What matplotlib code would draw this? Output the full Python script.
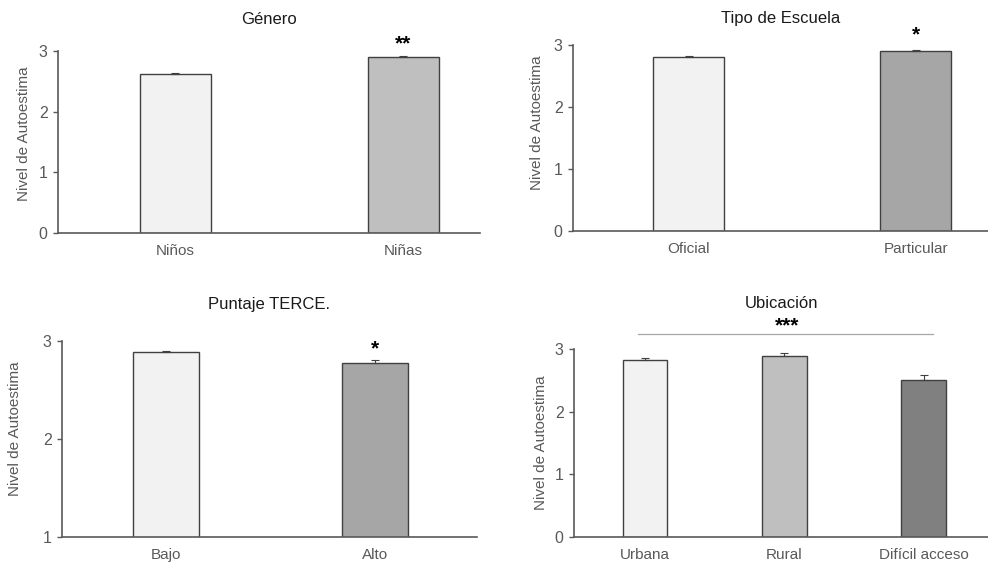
import matplotlib
matplotlib.use("Agg")
import matplotlib.pyplot as plt

plt.rcParams['font.family'] = ['Liberation Sans', 'DejaVu Sans']

W, H = 988, 563

# ---- data ----
gen_cats = ["Niños", "Niñas"]
gen_vals = [2.62, 2.90]
gen_err = [0.02, 0.01]

esc_cats = ["Oficial", "Particular"]
esc_vals = [2.80, 2.90]
esc_err = [0.015, 0.025]

terce_cats = ["Bajo", "Alto"]
terce_vals = [2.89, 2.78]
terce_err = [0.01, 0.03]

ubi_cats = ["Urbana", "Rural", "Difícil acceso"]
ubi_vals = [2.83, 2.90, 2.51]
ubi_err = [0.03, 0.04, 0.08]

fig = plt.figure(figsize=(W / 100, H / 100), dpi=100)

def add_ax(left, right, bottom, top):
    return fig.add_axes([left / W, 1 - bottom / H, (right - left) / W, (bottom - top) / H])

tick_col = '#595959'
edge_col = '#404040'

def style(ax, cats, vals, errs, colors, xlim, ylim, yticks, width):
    x = list(range(len(cats)))
    ax.bar(x, vals, width=width, color=colors, edgecolor=edge_col, linewidth=1.0, zorder=2)
    ax.errorbar(x, vals, yerr=[[0] * len(errs), errs], fmt='none', ecolor=edge_col,
                elinewidth=0.8, capsize=3, capthick=0.8, zorder=3)
    ax.set_xlim(*xlim)
    ax.set_ylim(*ylim)
    ax.set_yticks(yticks)
    ax.set_xticks(x)
    ax.set_xticklabels(cats)
    for s in ['top', 'right']:
        ax.spines[s].set_visible(False)
    for s in ['left', 'bottom']:
        ax.spines[s].set_color('#595959')
        ax.spines[s].set_linewidth(1.2)
    ax.tick_params(axis='x', length=0, pad=8, labelsize=11, labelcolor=tick_col)
    ax.tick_params(axis='y', length=3.5, width=1, color='#595959', pad=4, labelsize=11.5, labelcolor=tick_col)
    ax.set_ylabel("Nivel de Autoestima", fontsize=11, color=tick_col)
    ax.patch.set_alpha(0)

def place_ylabel(ax, xpix, ylab_y):
    bb = ax.get_position()
    xfrac = (xpix / W - bb.x0) / bb.width
    ax.yaxis.set_label_coords(xfrac, ylab_y)

# Panel 1: Género
ax1 = add_ax(58, 480, 233, 51)
style(ax1, gen_cats, gen_vals, gen_err, ['#f2f2f2', '#bfbfbf'],
      (-0.515, 1.336), (0, 3), [0, 1, 2, 3], 0.311)
place_ylabel(ax1, 31, 0.547)
ax1.text(0.5, 1 + 32 / 182, "Género", transform=ax1.transAxes, ha='center', va='center', fontsize=12, color='#1a1a1a')
ax1.text(1, gen_vals[1] + 0.22, "**", ha='center', va='center', fontsize=15, fontweight='bold', clip_on=False)

# Panel 2: Tipo de Escuela
ax2 = add_ax(573, 988, 230.7, 45)
style(ax2, esc_cats, esc_vals, esc_err, ['#f2f2f2', '#a6a6a6'],
      (-0.509, 1.319), (0, 3), [0, 1, 2, 3], 0.313)
place_ylabel(ax2, 544, 0.583)
ax2.text(0.5, 1 + 26 / 185.7, "Tipo de Escuela", transform=ax2.transAxes, ha='center', va='center', fontsize=12, color='#1a1a1a')
ax2.text(1, esc_vals[1] + 0.26, "*", ha='center', va='center', fontsize=15, fontweight='bold', clip_on=False)

# Panel 3: Puntaje TERCE.
ax3 = add_ax(62, 477, 536.7, 341)
style(ax3, terce_cats, terce_vals, terce_err, ['#f2f2f2', '#a6a6a6'],
      (-0.498, 1.488), (1, 3), [1, 2, 3], 0.316)
place_ylabel(ax3, 22, 0.553)
ax3.text(0.5, 1 + 36 / 195.7, "Puntaje TERCE.", transform=ax3.transAxes, ha='center', va='center', fontsize=12, color='#1a1a1a')
ax3.text(1, terce_vals[1] + 0.14, "*", ha='center', va='center', fontsize=15, fontweight='bold', clip_on=False)

# Panel 4: Ubicación
ax4 = add_ax(574, 988, 536.7, 349.3)
style(ax4, ubi_cats, ubi_vals, ubi_err, ['#f2f2f2', '#bfbfbf', '#808080'],
      (-0.51, 2.463), (0, 3), [0, 1, 2, 3], 0.32)
place_ylabel(ax4, 548, 0.503)
ax4.text(0.5, 1 + 46 / 187.4, "Ubicación", transform=ax4.transAxes, ha='center', va='center', fontsize=12, color='#1a1a1a')
ax4.plot([-0.05, 2.07], [3.25, 3.25], color='#a6a6a6', linewidth=0.9, clip_on=False)
ax4.text(1.02, 3.37, "***", ha='center', va='center', fontsize=15, fontweight='bold', clip_on=False)

fig.savefig("out.png", dpi=100)
